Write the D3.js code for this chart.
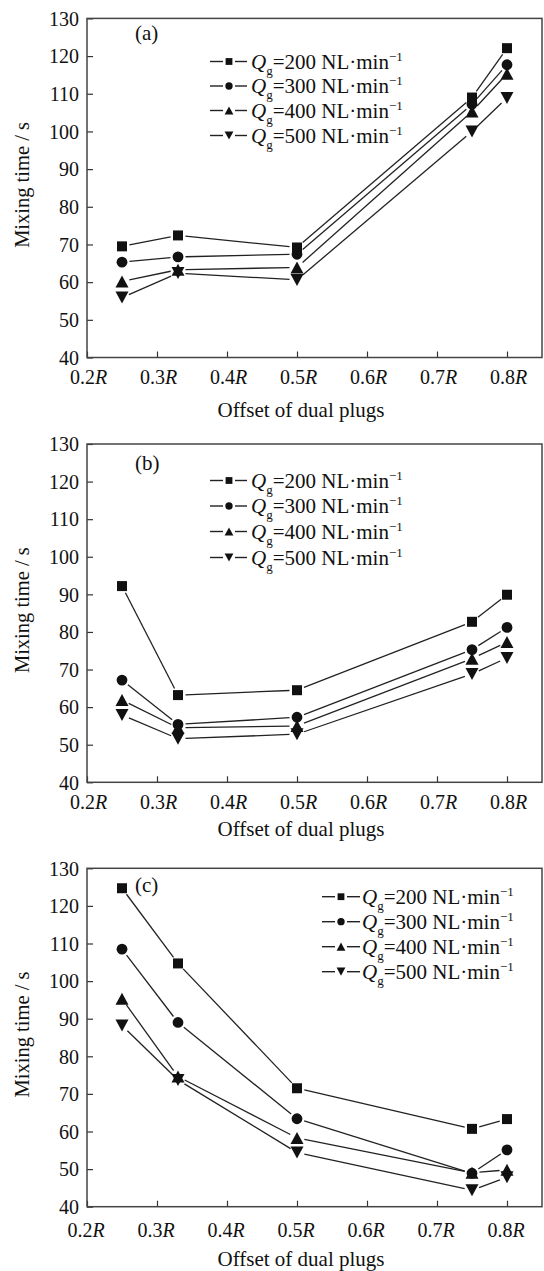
<!DOCTYPE html>
<html>
<head>
<meta charset="utf-8">
<script src="https://cdn.jsdelivr.net/npm/d3@7/dist/d3.min.js"></script>
<style>
  html, body { margin: 0; padding: 0; background: #fff; }
  svg { display: block; font-family: "Liberation Serif", "Times New Roman", serif; }
</style>
</head>
<body>
<svg id="chart" width="544" height="1271"></svg>
<script>
// ---------------- data ----------------
const offsets = [0.25, 0.33, 0.5, 0.75, 0.8];
const flowRates = [200, 300, 400, 500];
const markerTypes = ["square", "circle", "triangleUp", "triangleDown"];
const panelLabels = ["(a)", "(b)", "(c)"];

// Mixing time (s), one row per flow rate (200, 300, 400, 500 NL/min)
const panelA = [
  [69.5, 72.4, 69.2, 109.0, 122.1],
  [65.3, 66.7, 67.4, 107.2, 117.7],
  [60.2, 63.3, 63.9, 105.3, 115.3],
  [55.9, 62.4, 60.6, 100.0, 108.9]
];
const panelB = [
  [92.2, 63.2, 64.5, 82.7, 89.9],
  [67.2, 55.4, 57.3, 75.3, 81.2],
  [61.9, 54.5, 55.0, 72.9, 77.3],
  [57.9, 51.6, 52.8, 68.8, 73.1]
];
const panelC = [
  [124.7, 104.7, 71.5, 60.7, 63.3],
  [108.5, 89.0, 63.4, 48.9, 55.1],
  [95.3, 74.6, 58.3, 49.0, 49.8],
  [88.2, 73.7, 54.4, 44.4, 47.8]
];

const yTicks = [40, 50, 60, 70, 80, 90, 100, 110, 120, 130];
const xTicks = [0.2, 0.3, 0.4, 0.5, 0.6, 0.7, 0.8];
const xTickLabels = ["0.2", "0.3", "0.4", "0.5", "0.6", "0.7", "0.8"];
const xTitle = "Offset of dual plugs";
const yTitle = "Mixing time / s";

// ---------------- layout ----------------
const layout = [
  { top: 18.4, bottom: 357.5, letterY: 40, tickLabelY: 384, tickDx: 1.5, xTitleY: 416.5,
    legX0: 210, legMark: 229, legX1: 247, legText: 251, legRows: [61.5, 86, 110.5, 135.5] },
  { top: 444, bottom: 782.3, letterY: 470, tickLabelY: 808.5, tickDx: 1.5, xTitleY: 836,
    legX0: 210, legMark: 229, legX1: 247, legText: 251, legRows: [480.5, 506, 531.5, 557.5] },
  { top: 868.3, bottom: 1206.7, letterY: 892, tickLabelY: 1236.5, tickDx: -1, xTitleY: 1266,
    legX0: 322, legMark: 341, legX1: 360, legText: 362, legRows: [896.7, 921.7, 946.7, 971.7] }
];
const panelData = [panelA, panelB, panelC];

const svg = d3.select("#chart");
svg.append("rect").attr("width", 544).attr("height", 1271).attr("fill", "#fff");

const INK = "#111";
const LINE = "#222";

function markerPath(type, cx, cy, s) {
  if (type === "square") {
    const h = s * 0.5;
    return `M${cx - h},${cy - h}H${cx + h}V${cy + h}H${cx - h}Z`;
  }
  if (type === "circle") {
    const r = s * 0.54;
    return `M${cx - r},${cy}A${r},${r} 0 1,0 ${cx + r},${cy}A${r},${r} 0 1,0 ${cx - r},${cy}Z`;
  }
  const w = s * 1.3, h = s * 1.2;
  if (type === "triangleUp") {
    return `M${cx},${cy - h / 2}L${cx + w / 2},${cy + h / 2}L${cx - w / 2},${cy + h / 2}Z`;
  }
  return `M${cx},${cy + h / 2}L${cx + w / 2},${cy - h / 2}L${cx - w / 2},${cy - h / 2}Z`;
}

function drawPanel(idx) {
  const L = layout[idx];
  const data = panelData[idx];
  const x = d3.scaleLinear().domain([0.2, 0.85]).range([87, 542]);
  const y = d3.scaleLinear().domain([40, 130]).range([L.bottom, L.top]);
  const g = svg.append("g");

  // Y axis (ticks inward)
  const ya = g.append("g").attr("transform", `translate(${x(0.2)},0)`)
    .call(d3.axisLeft(y).tickValues(yTicks).tickSize(-6).tickPadding(8).tickFormat(d3.format("d")));
  ya.select(".domain").remove();
  ya.selectAll(".tick line").attr("stroke", "#333").attr("stroke-width", 1.2);
  ya.selectAll(".tick text").attr("fill", INK).style("font-size", "20px")
    .style("font-family", "Liberation Serif").attr("dy", "0.34em");

  // X axis (ticks inward)
  const xa = g.append("g").attr("transform", `translate(0,${L.bottom})`)
    .call(d3.axisBottom(x).tickValues(xTicks).tickSize(-6).tickFormat(""));
  xa.select(".domain").remove();
  xa.selectAll(".tick line").attr("stroke", "#333").attr("stroke-width", 1.2);

  xTicks.forEach((v, i) => {
    const t = g.append("text").attr("x", x(v) + L.tickDx).attr("y", L.tickLabelY)
      .attr("text-anchor", "middle").attr("fill", INK).style("font-size", "20px");
    t.append("tspan").text(xTickLabels[i]);
    t.append("tspan").attr("font-style", "italic").text("R");
  });

  // frame
  g.append("rect").attr("x", x(0.2)).attr("y", y(130))
    .attr("width", x(0.85) - x(0.2)).attr("height", y(40) - y(130))
    .attr("fill", "none").attr("stroke", "#444").attr("stroke-width", 1.5);

  // titles
  g.append("text").attr("x", 301).attr("y", L.xTitleY).attr("text-anchor", "middle")
    .attr("fill", INK).style("font-size", "21px").text(xTitle);
  const yc = (L.top + L.bottom) / 2 - 3;
  g.append("text").attr("transform", `translate(29,${yc}) rotate(-90)`)
    .attr("text-anchor", "middle").attr("fill", INK).style("font-size", "20.5px").text(yTitle);

  // panel letter
  g.append("text").attr("x", 135).attr("y", L.letterY).attr("fill", INK)
    .style("font-size", "21px").text(panelLabels[idx]);

  // series lines (gapped around markers)
  const gap = 7.5;
  data.forEach((vals, si) => {
    for (let i = 0; i < vals.length - 1; i++) {
      const x1 = x(offsets[i]), y1 = y(vals[i]);
      const x2 = x(offsets[i + 1]), y2 = y(vals[i + 1]);
      const dx = x2 - x1, dy = y2 - y1, len = Math.hypot(dx, dy);
      if (len <= 2 * gap) continue;
      const ux = dx / len, uy = dy / len;
      g.append("line")
        .attr("x1", x1 + ux * gap).attr("y1", y1 + uy * gap)
        .attr("x2", x2 - ux * gap).attr("y2", y2 - uy * gap)
        .attr("stroke", LINE).attr("stroke-width", 1.3);
    }
  });
  // markers
  data.forEach((vals, si) => {
    vals.forEach((v, i) => {
      g.append("path").attr("d", markerPath(markerTypes[si], x(offsets[i]), y(v), 10))
        .attr("fill", INK);
    });
  });

  // legend
  flowRates.forEach((q, si) => {
    const cy = L.legRows[si];
    g.append("line").attr("x1", L.legX0).attr("x2", L.legMark - 6)
      .attr("y1", cy).attr("y2", cy).attr("stroke", LINE).attr("stroke-width", 1.4);
    g.append("line").attr("x1", L.legMark + 6).attr("x2", L.legX1)
      .attr("y1", cy).attr("y2", cy).attr("stroke", LINE).attr("stroke-width", 1.4);
    g.append("path").attr("d", markerPath(markerTypes[si], L.legMark, cy, 6.8)).attr("fill", INK);
    const t = g.append("text").attr("x", L.legText).attr("y", cy + 7)
      .attr("fill", INK).style("font-size", "21px");
    t.append("tspan").attr("font-style", "italic").text("Q");
    t.append("tspan").attr("dy", 6).style("font-size", "13px").text("g");
    t.append("tspan").attr("dy", -6).text(`=${q} NL·min`);
    t.append("tspan").attr("dy", -8).style("font-size", "13px").text("−1");
  });
}

[0, 1, 2].forEach(drawPanel);
</script>
</body>
</html>
